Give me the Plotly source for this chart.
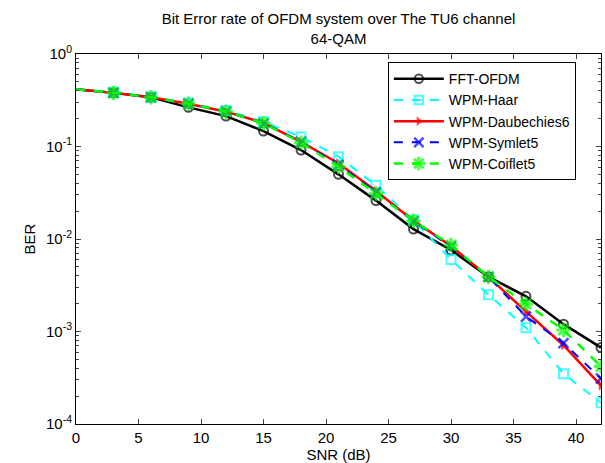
import plotly.graph_objects as go

snr = [0, 3, 6, 9, 12, 15, 18, 21, 24, 27, 30, 33, 36, 39, 42]
ber_fft = [0.415, 0.38, 0.34, 0.265, 0.213, 0.147, 0.0916, 0.050, 0.026, 0.0128, 0.0076, 0.0039, 0.0024, 0.0012, 0.00067]
ber_haar = [0.415, 0.385, 0.345, 0.295, 0.245, 0.185, 0.127, 0.0776, 0.038, 0.0160, 0.0060, 0.0025, 0.0011, 0.00035, 0.00017]
ber_db6 = [0.415, 0.38, 0.34, 0.29, 0.238, 0.18, 0.112, 0.066, 0.033, 0.0158, 0.0084, 0.0039, 0.00164, 0.00071, 0.00026]
ber_sym5 = [0.415, 0.38, 0.34, 0.29, 0.238, 0.178, 0.112, 0.063, 0.032, 0.0155, 0.0083, 0.0039, 0.00145, 0.00075, 0.00031]
ber_coif5 = [0.415, 0.38, 0.34, 0.29, 0.238, 0.178, 0.11, 0.0605, 0.031, 0.0157, 0.0086, 0.0039, 0.00198, 0.00104, 0.00042]

x_ticks = [0, 5, 10, 15, 20, 25, 30, 35, 40]
y_ticks = [1, 0.1, 0.01, 0.001, 0.0001]
y_ticktext = ["10<sup>0</sup>", "10<sup>-1</sup>", "10<sup>-2</sup>", "10<sup>-3</sup>", "10<sup>-4</sup>"]

FONT = "Liberation Sans, Arial, sans-serif"
FS = 15

def sizes(n, s):
    return [0] + [s] * (n - 1)

fig = go.Figure()
series = [
    ("FFT-OFDM", ber_fft, "black", "solid", 2.5, "circle-open", 9, 2),
    ("WPM-Haar", ber_haar, "#00FFFF", "dash", 2, "square-open", 9, 2),
    ("WPM-Daubechies6", ber_db6, "#FF0000", "solid", 2.5, "triangle-right", 9, 0),
    ("WPM-Symlet5", ber_sym5, "#0000FF", "dash", 2, "x-thin-open", 10, 2.5),
    ("WPM-Coiflet5", ber_coif5, "#00FF00", "dash", 2.5, "asterisk-open", 12, 3),
]
for name, y, col, dash, lw, sym, ms, mlw in series:
    fig.add_trace(go.Scatter(
        x=snr, y=y, name=name, mode="lines+markers",
        line=dict(color=col, width=lw, dash=dash),
        marker=dict(symbol=sym, size=sizes(len(snr), ms), color=col,
                    line=dict(color=col, width=mlw)),
    ))

fig.update_layout(
    width=605, height=463,
    margin=dict(l=76, r=4, t=54, b=39),
    paper_bgcolor="white", plot_bgcolor="white",
    font=dict(family=FONT, size=FS, color="black"),
    title=dict(text="Bit Error rate of OFDM system over The TU6 channel<br>64-QAM",
               x=(76 + 262.5) / 605, xanchor="center", y=1 - 24 / 463, yanchor="top",
               font=dict(family=FONT, size=FS, color="black")),
    legend=dict(x=0.594, y=0.978, xanchor="left", yanchor="top",
                bgcolor="white", bordercolor="black", borderwidth=1,
                font=dict(family=FONT, size=14, color="black"),
                itemwidth=50, tracegroupgap=0),
    showlegend=True,
)
fig.update_xaxes(
    range=[0, 42], tickvals=x_ticks, ticks="inside", ticklen=5,
    showline=True, linecolor="black", linewidth=1, mirror="ticks",
    showgrid=False, zeroline=False,
    title=dict(text="SNR (dB)", standoff=0, font=dict(family=FONT, size=FS)),
    tickfont=dict(family=FONT, size=FS),
)
fig.update_yaxes(
    type="log", range=[-4, 0], tickvals=y_ticks, ticktext=y_ticktext,
    ticks="inside", ticklen=5,
    minor=dict(ticks="inside", ticklen=3, dtick="D1", showgrid=False),
    showline=True, linecolor="black", linewidth=1, mirror="ticks",
    showgrid=False, zeroline=False,
    title=dict(text="BER", standoff=6, font=dict(family=FONT, size=FS)),
    tickfont=dict(family=FONT, size=FS),
)

fig.write_html("out.html", config={"displayModeBar": False},
               post_script="document.body.style.margin='0';")
